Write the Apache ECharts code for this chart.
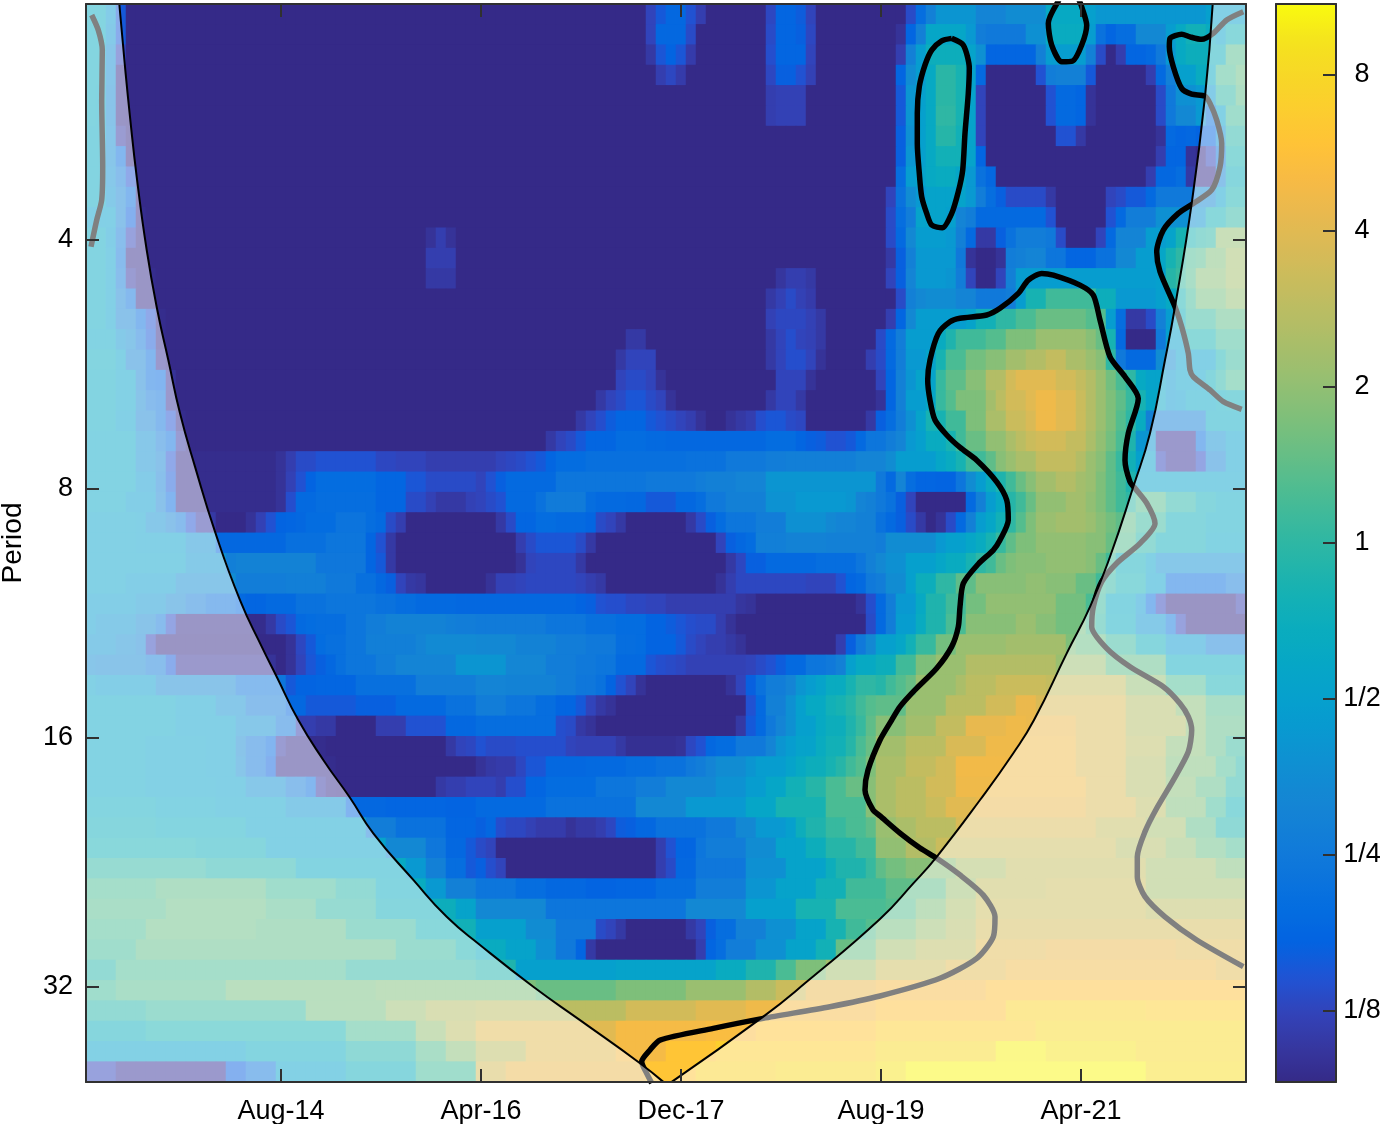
<!DOCTYPE html>
<html><head><meta charset="utf-8">
<style>html,body{margin:0;padding:0;background:#fff}#c{width:1382px;height:1124px}</style>
<script src="https://cdn.jsdelivr.net/npm/echarts@6/dist/echarts.min.js"></script>
</head><body><div id="c"></div>
<script>
// Values are log2(power). Each row lists pairs: first column of a run, value of that run.
const N=-3.45;
const row00=[0,-.6,2,-1.2,3,-2.7,4,N,56,-3,57,-2.7,58,-2.45,60,-2.8,61,-3.1,62,N,68,-2.95,69,-2.5,71,-2.65,72,-3,73,N,82,-2.9,83,-2.3,84,-1.8,85,-1.3,89,-1.7,92,-1.5,96,-.7,100,-1,101,-1.25,112,-1];
const row01=[0,-.6,2,-1.3,3,-2.7,4,N,56,-3,57,-2.45,60,-2.9,61,N,68,-2.9,69,-2.5,71,-2.6,72,-2.95,73,N,81,-3.3,82,-2.5,83,-1.8,84,-.8,88,-1.2,89,-1.9,90,-2,94,-1.4,96,-.6,100,-1.1,101,-2.2,102,-2.5,103,-2.3,105,-1.6,108,-1.1,109,-.7,110,-.4,112,-.6,113,-.9,114,-.4];
const row02=[0,-.6,2,-1.5,3,-3,4,N,56,-3.2,57,-2.75,58,-2.55,59,-2.75,60,-3.15,61,N,68,-2.85,69,-2.5,72,-3,73,N,81,-3.1,82,-1.8,83,-1.1,84,-.5,88,-.9,89,-1.4,90,-2.5,95,-1.8,96,-1.1,100,-1.8,101,-2.9,102,N,103,-3.1,104,-2.5,106,-2.4,107,-2,108,-1.2,109,-.7,110,-.5,114,.4];
const row03=[0,-.6,2,-1.5,3,-3.4,4,N,57,-3.1,58,-2.95,59,-3.15,60,N,68,-2.95,69,-2.6,71,-2.8,72,-3.05,73,N,81,-2.5,82,-1.5,83,-1.1,84,-.7,85,-.05,87,-.3,88,-.9,89,-2.4,90,N,95,-2.8,96,-1.9,97,-1.8,100,-2.7,101,N,106,-3.1,107,-2.4,108,-1.8,109,-1,111,-.6,112,-.7,113,.3,115,.6];
const row04=[0,-.6,1,-.7,2,-1.6,3,-3.4,4,N,68,-3.1,69,-3.05,72,N,81,-2.7,82,-1.3,83,-1,84,-.7,85,-.05,87,-.3,88,-.9,89,-3,90,N,96,-2.8,97,-2.4,99,-2.5,100,-3.3,101,N,107,-2.9,108,-2,109,-1.4,111,-1.2,113,0,115,.5];
const row05=[0,-.6,1,-.7,2,-1.6,3,-3.4,4,N,68,-3.1,69,-3.05,72,N,81,-2.7,82,-1.3,83,-1,84,-.7,85,0,87,-.3,88,-.9,89,-3,90,N,96,-2.8,97,-2.4,99,-2.5,100,-3.3,101,N,107,-2.9,108,-2,109,-1.6,111,-1.2,112,-2.2,113,-.9,114,.2];
const row06=[0,-.7,2,-1.5,3,-3.2,4,N,81,-2.6,82,-1.4,83,-1,84,-.7,85,-.1,87,-.4,88,-.9,89,-3,90,N,97,-2.8,99,-3.2,100,N,107,-3.3,108,-2.4,109,-2.5,110,-2.45,111,-2.55,112,-2.5,113,-1.4,114,-.1];
const row07=[0,-.7,2,-1.5,3,-2.3,4,N,81,-2.6,82,-1.3,83,-1,84,-.7,85,-.4,88,-.9,89,-2.5,90,N,107,-3.1,108,-2.5,110,-3.3,111,-3.4,112,-3,113,-2,114,-.3];
const row08=[0,-.7,2,-1.4,3,-1.9,4,-2.8,5,N,81,-2.3,82,-1.1,83,-.9,84,-.7,85,-.6,87,-.8,88,-1.2,89,-2.2,90,-2.45,91,N,106,-3.1,107,-2.45,109,-2.3,110,-3.2,111,-3.4,113,-1.7,114,-.5];
const row09=[0,-.7,2,-1.3,3,-1.7,4,-2.3,5,N,80,-3,81,-2.2,82,-1.5,83,-1.2,84,-.9,88,-1.2,89,-1.9,90,-2.3,91,-2.6,92,-2.9,95,-2.9,96,-3.2,97,N,102,-3,103,-2.9,104,-2.7,106,-2.4,107,-2,111,-1.6,113,-1,114,-.3];
const row10=[0,-1,3,-1.7,4,-2.6,5,-3.4,6,N,80,-2.9,81,-2.3,82,-1.9,83,-.9,86,-1,87,-1.7,88,-1.9,89,-2.4,96,-2.8,97,N,102,-2.8,103,-2.4,104,-1.9,107,-1.4,111,-1.3,112,-.4,114,0];
const row11=[0,-.7,2,-1.1,3,-1.9,4,-3,5,-3.4,6,N,34,-3.3,35,-3.1,36,-3.3,37,N,80,-2.9,81,-2.4,82,-1.6,83,-1.1,86,-1.2,87,-1.8,88,-2.4,89,-3.2,91,-2.6,92,-2.2,93,-1.9,96,-2,97,-2.9,98,N,101,-3,102,-2.4,103,-1.7,106,-1.1,108,-.9,109,-.3,111,-.1,112,0,113,1];
const row12=[0,-.7,2,-1,3,-2,4,-3.4,6,N,34,-3.1,37,N,80,-3.2,81,-2.6,82,-1.8,83,-1.2,87,-2,88,-3.3,89,N,91,-3.3,92,-1.9,93,-1.8,94,-1.7,96,-2.1,98,-2.5,101,-2.2,103,-1.6,105,-1.1,107,-.8,108,-.3,109,0,110,.3,111,.4,112,.8,114,1.2];
const row13=[0,-.7,2,-1,3,-1.9,4,-3.2,5,-3.4,7,N,34,-3.2,37,N,69,-3.25,70,-3.1,72,-3.2,73,N,80,-3,81,-2.6,82,-1.7,83,-1.2,86,-1.3,87,-1.9,88,-3,89,N,91,-3,92,-1.8,93,-1.1,107,-1,108,-.1,109,.1,110,.4,111,.9,114,1.2];
const row14=[0,-.7,2,-1,3,-1.7,4,-2.2,5,-3.4,7,N,68,-3.2,69,-3.05,70,-2.9,71,-3.05,72,-3.15,73,N,81,-2.9,82,-1.8,83,-1.6,84,-1.5,87,-1.7,89,-2,92,-1.9,93,-1.1,94,-.3,96,.2,101,-.5,103,-1.2,107,-1,108,-.7,109,-.3,110,.2,111,.7,114,1];
const row15=[0,-.7,2,-1,3,-1.7,5,-2.3,6,-2.8,7,-3.4,8,N,68,-3.05,69,-2.95,72,-3.05,73,-3.2,74,N,80,-3.1,81,-2.5,82,-1.6,83,-1.1,88,-.9,89,-.4,91,0,93,.3,95,.6,100,.4,102,-1.1,103,-2.3,104,-3.2,106,-2.9,107,-1.8,108,-1.1,109,-.5,110,.1,113,.5];
const row16=[0,-.8,3,-1.3,4,-1.5,5,-2,6,-2.7,7,-3.4,8,N,54,-3.2,56,N,68,-3.2,69,-3,70,-2.85,71,-3,72,-3.05,73,-3.2,74,N,79,-2.9,80,-2.4,81,-1.9,82,-1.1,85,-.6,86,-.2,87,.2,90,.4,92,.8,95,1.1,100,.9,101,.6,102,-.3,103,-2.4,104,N,107,-2,108,-1,110,-.3,113,.2];
const row17=[0,-.6,3,-.9,4,-1.7,6,-2.3,7,-3.3,8,N,53,-3.2,54,-3,57,N,68,-3.2,69,-3,70,-2.85,72,-3,73,-3.3,74,N,78,-3.1,79,-2.9,80,-2.4,81,-1.9,82,-1.2,84,-.9,85,-.3,86,.3,88,.7,90,.9,92,1.2,94,1.4,96,1.6,98,1.3,100,1.1,101,.9,102,0,103,-2,104,-2.4,107,-1.5,109,-1,113,-.3,114,.1];
const row18=[0,-.7,3,-.9,5,-1.7,6,-2.3,7,-2.4,8,-3.3,9,N,53,-3,54,-2.9,56,-3,57,-3.3,58,N,69,-3,72,-3.3,73,N,79,-3,80,-2.5,81,-1.8,82,-1.3,83,-.9,85,.1,86,.5,88,.9,90,1.4,92,1.8,93,2,97,1.8,99,1.6,100,1.4,101,1.1,102,.7,103,.3,104,0,105,-.7,106,-.9,108,-1.2,109,-.9,112,-.5,113,-.1,114,.3];
const row19=[0,-.7,3,-.9,5,-1.6,6,-2,7,-2.2,8,-3.3,9,N,51,-3.2,52,-3,53,-2.9,54,-2.75,56,-2.9,57,-3,58,-3.3,59,N,68,-3.2,69,-3,71,-3.2,72,N,79,-3.3,80,-2.5,81,-1.8,82,-1.1,84,-.8,85,.1,86,.4,87,.8,90,1.2,91,1.5,92,1.8,94,2,95,2.2,97,2,99,1.7,100,1.4,101,1.1,102,.8,103,.5,104,.1,105,-.3,106,-.8,108,-1.2,109,-1.1,110,-.8,113,-.6,114,-.5];
const row20=[0,-.7,3,-1,5,-1.7,7,-2.2,8,-2.8,9,-3.4,10,N,49,-3.2,50,-3,51,-2.85,52,-2.65,53,-2.5,56,-2.7,57,-2.8,58,-2.9,59,-3,60,-3.1,61,-3.3,62,N,64,-3.3,65,-3.2,66,-3.1,67,-2.85,68,-2.75,70,-2.9,71,-2.95,72,N,78,-3.2,79,-2.6,80,-2.3,81,-1.9,82,-1.4,83,-.9,84,-.3,86,.2,88,.8,90,1.3,92,1.7,94,1.9,95,2.2,97,2,99,1.7,100,1.4,101,1.1,102,.8,103,.4,104,0,105,-.6,106,-1.8,112,-.7];
const row21=[0,-.8,5,-1.4,7,-1.9,8,-2.3,9,-3.2,10,N,46,-3.2,47,-3,48,-2.9,49,-2.7,50,-2.5,53,-2.35,56,-2.4,58,-2.45,68,-2.35,71,-2.5,72,-2.6,73,-2.65,74,-2.8,76,-2.7,77,-2.4,78,-2.1,80,-1.9,81,-1.7,82,-1.2,83,-1,84,-.6,86,-.3,87,.2,88,.6,90,1,92,1.3,93,1.5,94,1.7,95,1.8,98,1.6,100,1.3,101,1,102,.7,103,.3,104,-.2,105,-1.3,107,-3.3,111,-2.3,112,-1.4,114,-1];
const row22=[0,-.8,5,-1.4,7,-1.7,8,-2.8,9,-3.4,19,-3.3,20,-3.1,21,-2.9,23,-2.8,29,-2.95,31,-3,34,-3.1,41,-3,42,-2.95,43,-2.9,44,-2.8,45,-2.7,46,-2.5,47,-2.35,50,-2.25,60,-2.2,64,-2,68,-1.9,70,-1.85,77,-1.7,80,-1.5,81,-1.1,85,-.8,86,-.6,87,-.3,88,.2,90,.5,91,.9,92,1.1,93,1.3,95,1.6,99,1.4,100,1.1,101,.9,102,.5,103,.1,104,-.4,105,-1,107,-3,108,-3.3,111,-2.9,112,-1.7,114,-1];
const row23=[0,-.8,5,-1.2,7,-1.8,8,-2.7,9,-3.4,19,-3.3,20,-3.05,21,-2.8,22,-2.55,23,-2.35,29,-2.5,32,-2.75,34,-2.9,39,-3,40,-2.8,41,-2.6,42,-2.4,47,-2.1,56,-2,61,-1.9,62,-1.8,65,-1.7,68,-1.3,79,-2,80,-2.4,81,-1.7,82,-2.3,83,-2.5,85,-2.55,87,-2.1,88,-1.5,89,-1.1,90,-.6,91,-.2,92,.2,93,.6,94,.9,95,1.2,97,1.4,99,1.2,100,1.1,101,.8,102,.5,103,.2,104,-.2,105,-.9];
const row24=[0,-.8,4,-1.1,7,-1.7,8,-2.4,9,-3.4,19,-3.3,20,-2.85,21,-2.4,23,-2.3,29,-2.5,32,-2.9,34,-3.05,35,-3.2,38,-3.05,39,-3,40,-2.9,41,-2.8,42,-2.4,45,-2.2,46,-1.95,50,-2.3,51,-2.4,54,-2.45,56,-2.7,59,-2.45,61,-2.3,62,-2,64,-1.8,68,-1.35,71,-1.2,76,-1.3,77,-1.7,78,-1.8,79,-2,80,-2.2,81,-2.6,82,-3,83,N,88,-2.4,89,-1.8,90,-1.1,91,-.7,92,-.1,93,.2,94,.6,95,1,98,1.2,100,1,101,.8,102,.5,103,.2,104,0,105,.4,108,-.1,111,-.5,113,-.7];
const row25=[0,-.9,5,-1,6,-1.4,8,-1.7,9,-2,10,-2.8,11,-3.2,13,N,16,-3.3,17,-3.05,18,-2.8,19,-2.55,20,-2.5,21,-2.45,22,-2.35,25,-2.15,28,-2.3,29,-2.4,30,-2.9,31,-3.1,32,N,41,-3.2,42,-2.9,43,-2.5,45,-2.35,47,-2.4,50,-2.5,51,-2.9,52,-3,53,-3.2,54,N,60,-3.2,61,-2.9,62,-2.6,63,-2.35,64,-2.1,67,-1.9,70,-1.4,74,-1.6,75,-1.7,77,-1.8,79,-2.2,80,-2.4,81,-2.6,82,-2.9,83,-3.2,84,N,85,-3.3,86,-2.9,87,-2.4,88,-1.8,89,-1.1,90,-.8,91,-.4,92,0,93,.4,94,.8,95,1.1,97,1.2,100,1.1,101,.9,102,.7,103,.5,105,.1,108,-.5,112,-.7];
const row26=[0,-.9,5,-1,10,-1.4,13,-2.45,20,-2.25,24,-2.1,28,-2.5,29,-2.8,30,-3.2,31,N,43,-3.1,44,-2.9,45,-2.75,49,-2.9,50,-3.2,51,N,63,-3,64,-2.6,65,-2.45,66,-2.35,67,-1.85,70,-1.75,74,-1.8,79,-1.9,80,-1.5,85,-1.2,86,-1,88,-.8,89,-.6,90,-.3,91,.1,92,.5,93,.8,95,1,100,.9,102,.6,103,.4,105,-.1,107,-.5,112,-.8];
const row27=[0,-.9,10,-1.3,14,-1.85,15,-1.75,23,-2.05,28,-2.5,29,-2.7,30,-3.2,31,N,43,-3.3,44,-3,45,-2.95,49,-3.2,50,N,64,-3.2,65,-2.95,66,-2.6,68,-2.4,73,-2.3,77,-2.1,78,-1.8,79,-1.6,80,-1.4,82,-1,85,-.8,86,-.6,88,-.3,89,0,90,.2,91,.6,92,.8,93,.9,96,1,100,.9,101,.6,102,.2,103,-.5,106,-.9,107,-1.4];
const row28=[0,-.9,4,-1.1,9,-1.5,15,-1.9,20,-1.85,24,-2,27,-2.25,29,-2.45,30,-2.6,31,-3,32,-3.2,33,-3.25,34,N,40,-3.3,41,-3.05,43,-3,44,-2.95,49,-3,50,-3.1,51,-3.2,52,N,63,-3.3,64,-3.1,65,-2.95,72,-3,75,-2.8,76,-2.5,77,-2.4,78,-2,79,-1.9,80,-1.5,82,-1,83,-.5,85,0,87,.5,89,.9,94,1,96,.9,99,.6,101,.2,102,0,103,-.4,106,-1,108,-2.3,114,-1.9];
const row29=[0,-1.1,5,-1.3,8,-1.6,10,-1.9,12,-2.2,15,-2.4,16,-2.5,18,-2.4,21,-2.2,24,-2.1,29,-2.2,31,-2.3,33,-2.4,37,-2.45,49,-2.55,50,-2.6,51,-2.8,52,-2.85,54,-2.95,56,-3,58,-3.1,65,-3.25,66,-3.3,67,N,77,-3.3,78,-2.85,79,-2.4,80,-1.9,81,-1.2,83,-.7,84,-.2,86,.2,88,.7,90,1,97,.7,100,.3,101,.1,102,-.7,105,-1.2,106,-2.3,107,-3,108,N,115,-3.1];
const row30=[0,-1.1,1,-1.3,5,-1.6,7,-2,8,-2.9,9,-3.4,18,-3.2,19,-2.9,20,-2.75,21,-2.4,22,-2.35,23,-2.3,26,-2.1,28,-1.9,30,-1.75,36,-1.85,37,-1.9,39,-1.95,46,-2.1,50,-2.25,53,-2.35,56,-2.55,58,-2.65,59,-2.75,60,-2.85,61,-2.9,63,-3.1,64,-3.3,65,N,78,-2.9,79,-2.4,80,-1.9,81,-1.1,83,-.6,84,-.2,86,.3,88,.9,93,1.1,95,.9,97,.7,100,.3,101,0,102,-.6,105,-1.3,108,-2.1,109,-3,110,N];
const row31=[0,-1.3,3,-1.5,5,-1.7,6,-3,7,N,20,-3.3,21,-2.95,22,-2.7,23,-2.35,24,-2.25,26,-2.1,28,-1.85,33,-1.7,34,-1.55,39,-1.6,43,-1.75,47,-1.9,50,-2,53,-2.3,55,-2.35,56,-2.55,59,-2.7,60,-2.9,61,-3,62,-3.1,64,-3.2,65,-3.3,66,N,75,-3.1,76,-2.6,77,-2,78,-1.6,79,-1,81,-.8,82,-.4,83,.1,85,.7,87,1.1,92,1.2,98,.8,99,.6,102,.1,105,-.5,108,-1.2,112,-1.8];
const row32=[0,-1.5,1,-1.6,6,-1.9,8,-2.7,9,-3.3,19,N,20,-3.3,21,-3,22,-2.75,23,-2.6,24,-2.45,25,-2.25,26,-2.1,29,-1.9,31,-1.7,37,-1.3,42,-1.65,46,-1.9,49,-2,51,-2.1,53,-2.4,56,-2.75,57,-2.85,58,-2.9,59,-2.95,60,-3.05,66,-3,67,-2.9,68,-2.8,69,-2.65,70,-2.4,72,-2.1,74,-2,75,-1.8,76,-1,77,-.7,79,-.5,81,.2,83,.8,85,1.1,88,1.4,97,1.1,102,.5,108,-.6];
const row33=[0,-.9,1,-1.1,7,-1.6,15,-2.1,20,-2.7,21,-2.55,23,-2.5,27,-2.25,33,-1.9,39,-1.7,42,-1.75,47,-1.9,49,-2.05,51,-2.2,52,-2.55,53,-2.8,54,-3,55,-3.3,56,N,64,-3.3,65,-3,66,-2.6,67,-2.2,68,-1.9,70,-1.7,71,-1.3,72,-1.1,73,-.9,74,-.6,76,-.3,77,0,79,-.1,80,.2,81,.4,82,.6,83,1.1,87,1.3,88,1.5,91,1.7,96,1.6,104,1,108,.3,112,-.4];
const row34=[0,-.8,9,-1,13,-1.4,16,-1.9,20,-2.45,22,-2.7,27,-2.6,31,-2.4,36,-2.2,39,-1.9,42,-2.1,45,-2.3,47,-2.5,49,-2.7,50,-3,51,-3.2,52,-3.3,53,N,66,-2.8,67,-2.4,68,-1.8,70,-1.4,71,-1,72,-.7,74,-.4,75,-.3,76,-.1,77,.2,78,.4,79,.5,82,1.1,86,1.5,90,1.8,93,2.15,95,1.9,104,1.4,109,.9,112,.4];
const row35=[0,-.8,9,-1,15,-1.4,19,-2,21,-3.1,23,-3.2,25,N,29,-3.1,32,-2.8,36,-2.45,39,-2.3,47,-2.85,48,-2.9,49,-3.2,50,-3.3,51,N,65,-3.2,66,-2.7,67,-2.4,68,-2,69,-1.7,70,-1.4,71,-1,73,-.7,74,-.5,76,-.2,77,.1,78,.5,79,.9,82,1.2,85,1.6,88,2.1,92,2.2,94,2.15,99,1.9,104,1.4,110,.9,112,.5];
const row36=[0,-.8,6,-.9,12,-1,15,-1.6,16,-2,18,-2.4,19,-3.2,20,-3.4,24,N,36,-3.2,37,-3,38,-2.95,39,-2.8,40,-2.9,43,-2.85,48,-3,49,-3.05,53,-3.2,54,-3.35,59,-3.3,60,-2.95,61,-2.8,62,-2.45,63,-2.35,65,-2,68,-1.7,69,-1.3,70,-1.1,71,-.9,73,-.6,74,-.4,76,-.1,77,.3,78,.6,79,1.2,82,1.5,86,1.9,90,2.2,99,1.9,104,1.5,108,.9,112,.5,114,.1];
const row37=[0,-.8,6,-.9,12,-1,15,-1.5,16,-2,18,-2.6,19,-3.4,25,N,39,-3.3,40,-3.2,41,-3.15,43,-2.95,44,-2.75,46,-2.45,50,-2.4,54,-2.3,57,-2.2,60,-2,61,-1.9,62,-1.7,63,-1.5,66,-1.3,67,-1.1,70,-.9,71,-.7,72,-.5,74,-.3,75,-.1,76,.2,77,.4,78,.8,79,1.3,82,1.6,85,1.8,87,2.25,92,2.2,99,1.9,104,1.4,108,.8,113,.3,115,-.1];
const row38=[0,-.8,6,-.9,13,-1,16,-1.4,20,-1.9,22,-2.3,23,-3.2,24,-3.4,25,N,35,-3.2,36,-3.1,38,-3,41,-3.1,42,-2.85,44,-2.5,46,-2.35,51,-2.1,55,-1.9,58,-1.6,63,-1.35,66,-1.1,68,-.8,70,-.4,72,-.1,74,.3,76,.6,78,.9,79,1.3,81,1.5,84,1.8,87,2.2,100,1.9,104,1.4,108,.9,111,.5,114,-.1];
const row39=[0,-.6,7,-.8,13,-.9,20,-1.3,26,-2.45,30,-2.5,36,-2.55,39,-2.4,46,-2.2,55,-1.6,60,-1.2,66,-.8,69,-.3,74,.3,78,.9,79,1.3,81,1.5,84,1.7,86,2,89,2.1,100,1.9,105,1.5,108,.8,112,.2,114,-.4];
const row40=[0,-.5,7,-.6,16,-.9,28,-1.9,31,-2.2,36,-2.5,39,-2.6,40,-2.45,41,-2.85,42,-2.95,44,-3.05,45,-3.15,48,-3.3,49,-3.2,51,-3.1,52,-2.95,53,-2.65,54,-2.6,55,-2.45,57,-2.2,62,-2,65,-1.6,67,-1.2,70,-1,71,-.5,72,-.2,74,.1,76,.3,78,.5,79,1.1,81,1.3,83,1.5,87,1.9,101,1.6,106,1.2,110,.5,113,-.2];
const row41=[0,-.4,11,-.5,18,-.9,30,-1.6,34,-2.05,36,-2.45,38,-2.7,39,-2.9,40,-3,41,N,57,-3.1,58,-2.8,59,-2.5,61,-2.1,62,-1.9,66,-1.5,69,-.9,72,-.5,74,-.1,77,.2,79,1,82,1.4,85,1.7,103,1.4,108,1,111,.6,114,.3];
const row42=[0,0,12,-.2,21,-.7,32,-1.2,34,-1.8,36,-2.3,38,-2.7,39,-2.6,40,-2.85,41,-3,42,N,57,-3.1,58,-2.9,59,-2.45,61,-2.05,66,-1.4,70,-.9,74,-.5,75,-.2,78,.1,79,.5,80,.7,82,.9,87,1.3,92,1.6,106,1.2,113,.8];
const row43=[0,.3,7,.5,18,.2,25,-.1,29,-.6,34,-1.2,36,-1.8,39,-2.1,43,-2.3,46,-2.45,50,-2.55,53,-2.5,57,-2.3,61,-1.9,66,-1.3,69,-.9,73,-.4,76,.2,80,.5,86,1.1,89,1.6,96,1.7,106,1.2];
const row44=[0,.4,8,.6,18,.4,23,0,29,-.5,37,-.9,39,-1.6,46,-2.1,60,-1.6,66,-1,71,-.3,75,.3,80,.4,83,.8,86,1.3,89,1.7,106,1.5];
const row45=[0,.3,6,.6,17,.5,26,.1,33,-.4,39,-1,44,-1.5,47,-2,51,-2.9,52,-3,53,-3.2,54,N,60,-3.2,61,-3,62,-2.6,63,-2.3,65,-1.8,68,-1.4,71,-.9,74,-.3,76,.2,78,.4,79,.7,83,1.1,86,1.4,89,1.8];
const row46=[0,.2,5,.5,31,.1,37,-.3,39,-.6,42,-.9,45,-1.4,47,-2,49,-2.5,50,-3.2,51,N,61,-3.1,62,-2.5,63,-2.3,64,-1.9,67,-1.4,70,-.9,73,-.4,75,.6,79,1.2,83,1.5,89,2,96,2.1,109,2];
const row47=[0,-.1,3,.3,26,0,39,-.2,43,-1,53,-.9,63,-.6,66,-.2,69,.3,71,.8,74,1.2,79,1.7,86,2,92,2.2,113,2];
const row48=[0,.2,3,.4,14,.7,29,.8,45,.6,53,.8,60,1.1,66,1.4,69,1.7,72,2.1,79,2.3,90,2.5];
const row49=[0,-.1,6,.1,22,.7,30,1.1,34,1.4,39,1.5,54,1.8,61,2,66,2.2,69,2.3,79,2.5,92,2.9,106,2.8];
const row50=[0,-.5,6,-.3,26,.3,33,1,36,1.5,39,2,53,2.3,62,2.4,67,2.6,79,2.8,95,3];
const row51=[0,-.9,16,-.6,26,-.2,33,.4,36,.9,39,1.5,44,2,53,2.3,58,2.6,63,2.8,79,3,91,3.35,96,3.2,105,3];
const row52=[0,-3,3,-3.3,14,-2.6,16,-2,19,-.9,26,-.5,33,.2,39,1.8,42,2.1,56,2.6,61,2.9,69,3,79,3.2,82,3.4,106,3.1];
const heatRows=[row00,row01,row02,row03,row04,row05,row06,row07,row08,row09,row10,row11,row12,row13,row14,row15,row16,row17,row18,row19,row20,row21,row22,row23,row24,row25,row26,row27,row28,row29,row30,row31,row32,row33,row34,row35,row36,row37,row38,row39,row40,row41,row42,row43,row44,row45,row46,row47,row48,row49,row50,row51,row52];

// x in months from the left edge, y in log2(period)
const contourA=[[86.57,1.19],[85.57,1.2],[84.57,1.237],[83.9,1.297],[83.33,1.384],[83.13,1.491],[83.13,1.612],[83.33,1.732],[83.57,1.826],[84.07,1.893],[84.57,1.94],[85.63,1.951],[86.57,1.893],[87.23,1.806],[87.67,1.719],[87.9,1.571],[88.23,1.411],[88.33,1.31],[87.73,1.217],[86.57,1.19]];
const contourB=[[97.3,1.036],[96.23,1.13],[96.57,1.217],[97.57,1.284],[98.67,1.281],[99.57,1.217],[100.07,1.137],[99.57,1.063],[99.3,1.036]];
const contourC=[[115.73,1.083],[114.07,1.116],[112.73,1.17],[111.57,1.194],[110.4,1.184],[109.57,1.173],[108.4,1.19],[108.33,1.224],[108.73,1.304],[109.57,1.391],[110.57,1.414],[111.9,1.422],[112.4,1.451],[113.07,1.518],[113.57,1.612],[113.4,1.706],[112.57,1.799],[110.73,1.853],[109.23,1.893],[107.73,1.96],[107.07,2.047],[107.4,2.127],[108.9,2.268],[109.57,2.348],[110.23,2.455],[110.4,2.522],[110.73,2.549],[112.4,2.602],[113.73,2.649],[115.57,2.68]];
const contourD=[[56.57,5.386],[56.07,5.347],[55.57,5.3],[56.4,5.253],[57.4,5.213],[62.73,5.166],[67.73,5.126],[74.4,5.079],[79.4,5.036],[85.4,4.965],[89.07,4.885],[90.73,4.798],[90.9,4.718],[89.73,4.631],[87.4,4.55],[85.07,4.483],[83.4,4.442],[81.4,4.382],[79.4,4.313],[78.7,4.289],[77.9,4.209],[78.2,4.129],[79.4,4.008],[80.57,3.928],[81.4,3.874],[82.9,3.807],[85.07,3.72],[86.57,3.633],[87.23,3.553],[87.4,3.473],[87.73,3.379],[89.23,3.301],[90.73,3.245],[91.4,3.205],[92.23,3.124],[92.07,3.044],[91.07,2.971],[89.07,2.884],[87.4,2.833],[86.07,2.783],[84.9,2.723],[84.4,2.643],[84.17,2.562],[84.4,2.482],[85.23,2.375],[86.4,2.328],[87.4,2.314],[90.07,2.301],[91.4,2.274],[93.23,2.214],[94.23,2.161],[95.57,2.134],[96.73,2.141],[99.4,2.181],[100.73,2.221],[101.4,2.321],[102.4,2.469],[103.9,2.549],[105.23,2.636],[104.23,2.776],[103.9,2.884],[104.4,2.971],[104.9,2.997],[106.07,3.057],[106.9,3.138],[105.4,3.218],[103.07,3.298],[101.57,3.372],[100.73,3.473],[100.57,3.553],[102.07,3.64],[104.4,3.714],[107.73,3.794],[109.4,3.861],[110.23,3.914],[110.57,3.968],[110.23,4.055],[108.73,4.169],[107.07,4.282],[105.9,4.376],[105.13,4.477],[105.13,4.557],[105.9,4.637],[107.9,4.718],[111.07,4.811],[115.73,4.918]];
const contourE=[[.57,1.096],[1.23,1.157],[1.63,1.237],[1.57,1.438],[1.67,1.706],[1.57,1.839],[1.07,1.92],[.5,2.027]];
const coneLeft=[[3.33,1.052],[3.9,1.304],[4.4,1.505],[5.07,1.746],[6.07,2.04],[7.13,2.281],[8.23,2.482],[9.4,2.696],[10.9,2.91],[12.9,3.171],[15.4,3.446],[17.57,3.633],[19.07,3.754],[21.23,3.928],[23.73,4.088],[26.4,4.24],[28.73,4.383],[32.73,4.57],[36.07,4.718],[39.4,4.831],[44.73,4.999],[49.4,5.133],[55.4,5.306],[57.73,5.381]];
const coneRight=[[58.57,5.381],[67.73,5.119],[72.07,4.979],[79.4,4.727],[82.73,4.584],[85.07,4.477],[89.4,4.249],[92.73,4.061],[94.8,3.928],[98.07,3.66],[100.4,3.473],[102.4,3.272],[104.73,2.991],[106.4,2.776],[107.9,2.482],[108.9,2.268],[110.57,1.853],[111.9,1.424],[112.67,1.052]];

const xTickValues=[19.5,39.5,59.5,79.5,99.5];
const xTickLabels=['Aug-14','Apr-16','Dec-17','Aug-19','Apr-21'];
const periodTicks=[2,3,4,5];
const periodLabels=['4','8','16','32'];
const powerTicks=[-3,-2,-1,0,1,2,3];
const powerLabels=['1/8','1/4','1/2','1','2','4','8'];
const parula=['#352A87','#3637A0','#3243BA','#2053D4','#0363E1','#046DE0','#0D75DC','#127DD8','#1485D4','#108ED2','#0998D1','#06A0CD','#06A7C6','#0AACBE','#15B1B4','#25B5A9','#38B99E','#4DBC92','#65BE86','#7CBF7B','#92BF73','#A5BE6B','#B7BD64','#C8BC5D','#D9BA56','#E9B94E','#F8BB44','#FFC337','#FCCE2E','#F7D826','#F5E41D','#F9FB0E'];

const COLS=116;
const heatData=[];
heatRows.forEach((r,ri)=>{
  let k=0,v=r[1];
  for(let c=0;c<COLS;c++){
    while(k+2<r.length&&r[k+2]<=c){k+=2;v=r[k+1];}
    heatData.push([c,ri,v]);
  }
});
const idx=n=>Array.from({length:n},(_,i)=>i);
const FONT='"Liberation Sans",Arial,sans-serif';
const INK='#303030';
const AREA={left:86,top:4,width:1160,height:1078};
const BAR={left:1276,top:4,width:60,height:1078};
const X0=0,X1=116,Y0=1.052,Y1=5.3815,P=3.455;
const edge={show:true,onZero:false,lineStyle:{color:INK,width:2}};
const tick=vals=>({show:true,inside:true,length:13,customValues:vals,lineStyle:{color:INK,width:2}});
const lab=(vals,names,extra)=>Object.assign({show:true,customValues:vals,color:'#000',fontFamily:FONT,fontSize:27,
  formatter:v=>names[vals.findIndex(t=>Math.abs(t-v)<1e-6)]||''},extra);
const valAxis=(grid,pos,min,max,o)=>Object.assign({type:'value',gridIndex:grid,position:pos,min,max,z:10,splitLine:{show:false},axisLine:edge,axisTick:{show:false},axisLabel:{show:false}},o||{});

const contours=[contourA,contourB,contourC,contourD,contourE].map(d=>({
  type:'line',xAxisIndex:1,yAxisIndex:1,data:d,symbol:'none',smooth:.25,z:3,silent:true,
  lineStyle:{color:'#000',width:5.5,join:'round'}
}));
const outline=[
  coneLeft.concat([[X0,Y1],[X0,Y0]]),
  coneRight.concat([[X1,Y0],[X1,Y1]])
];
const heatSeries=()=>({type:'heatmap',xAxisIndex:0,yAxisIndex:0,data:heatData,z:1,silent:true,progressive:0,itemStyle:{borderWidth:0}});
const option={
  animation:false,backgroundColor:'#fff',
  grid:[AREA,AREA,AREA,BAR,BAR].map(g=>Object.assign({},g,{containLabel:false,show:false,outerBoundsMode:'none'})),
  visualMap:{type:'continuous',seriesIndex:[0,1],dimension:2,min:-P,max:P,left:BAR.left,top:BAR.top,itemWidth:BAR.width,itemHeight:BAR.height,padding:0,calculable:false,hoverLink:false,z:5,inRange:{color:parula},textStyle:{color:'rgba(0,0,0,0)'}},
  xAxis:[
    {type:'category',gridIndex:0,data:idx(COLS),show:false},
    valAxis(1,'bottom',X0,X1,{axisTick:tick(xTickValues),axisLabel:lab(xTickValues,xTickLabels,{margin:16})}),
    valAxis(2,'top',X0,X1,{axisTick:tick(xTickValues)}),
    valAxis(3,'bottom',0,1),
    valAxis(4,'top',0,1)
  ],
  yAxis:[
    {type:'category',gridIndex:0,data:idx(heatRows.length),inverse:true,show:false},
    valAxis(1,'left',Y0,Y1,{inverse:true,axisTick:tick(periodTicks),axisLabel:lab(periodTicks,periodLabels,{margin:13,padding:[5,0,0,0]}),
      name:'Period',nameLocation:'middle',nameRotate:90,nameGap:59,nameTextStyle:{color:'#000',fontFamily:FONT,fontSize:28}}),
    valAxis(2,'right',Y0,Y1,{inverse:true,axisTick:tick(periodTicks)}),
    valAxis(3,'left',-P,P),
    valAxis(4,'right',-P,P,{axisTick:tick(powerTicks),axisLabel:lab(powerTicks,powerLabels,{margin:26,align:'center',padding:[6,0,0,0]})})
  ],
  series:[
    heatSeries(),heatSeries(),
    ...contours,
    {type:'custom',xAxisIndex:1,yAxisIndex:1,data:[0,1],z:4,silent:true,clip:true,
      renderItem:(p,api)=>({type:'polygon',shape:{points:outline[api.value(0)].map(c=>api.coord(c))},style:{fill:'rgba(255,255,255,0.5)'}})},
    {type:'line',xAxisIndex:1,yAxisIndex:1,data:coneLeft,symbol:'none',smooth:.5,z:5,silent:true,lineStyle:{color:'#000',width:2}},
    {type:'line',xAxisIndex:1,yAxisIndex:1,data:coneRight,symbol:'none',smooth:.5,z:5,silent:true,lineStyle:{color:'#000',width:2}}
  ]
};
const chart=echarts.init(document.getElementById('c'),null,{renderer:'canvas'});
chart.setOption(option);
</script></body></html>
